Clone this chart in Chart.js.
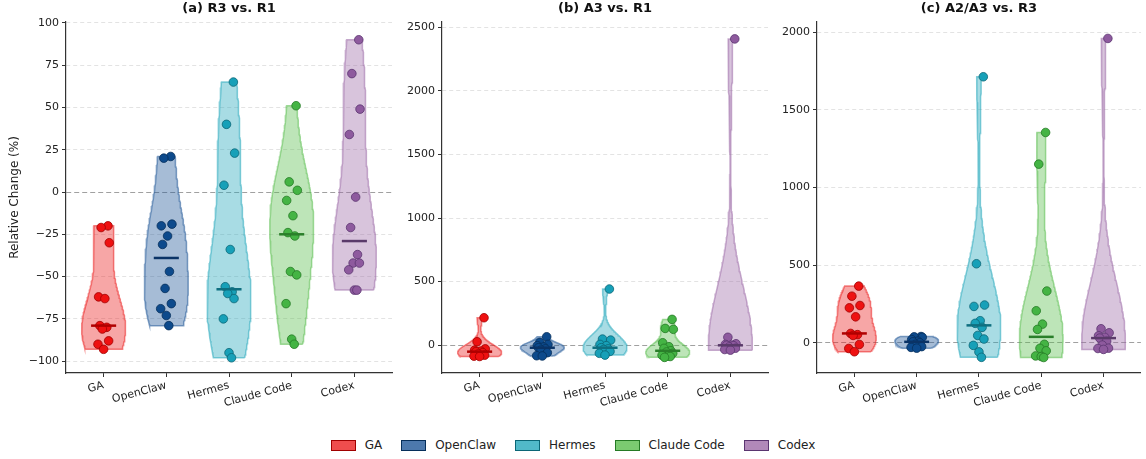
<!DOCTYPE html>
<html>
<head>
<meta charset="utf-8">
<script src="https://cdn.jsdelivr.net/npm/chart.js@4.4.1/dist/chart.umd.min.js"></script>
<style>
  body { margin: 0; background: #fff; width: 1146px; height: 459px; position: relative; overflow: hidden; font-family: "DejaVu Sans", sans-serif; }
  canvas { position: absolute; top: 0; }
  #legend { position: absolute; top: 438px; left: 0; width: 1146px; display: flex; justify-content: center; font-size: 12px; color: #222; }
  .item { display: flex; align-items: center; margin: 0 9.5px; }
  .patch { width: 23px; height: 9px; margin-right: 9px; border: 1px solid; }
</style>
</head>
<body>
<canvas id="pa" width="400" height="425" style="left:0px"></canvas>
<canvas id="pb" width="375" height="425" style="left:400px"></canvas>
<canvas id="pc" width="371" height="425" style="left:775px"></canvas>
<div id="legend"></div>
<script>
var categories = ['GA', 'OpenClaw', 'Hermes', 'Claude Code', 'Codex'];

// (a) R3 vs. R1, relative change in %
var a_GA       = [-20, -21, -30, -62, -63, -79, -80, -81, -88, -90, -93];
var a_OpenClaw = [21, 20, -19, -20, -26, -31, -47, -57, -66, -69, -73, -79];
var a_Hermes   = [65, 40, 23, 4, -34, -56, -59, -60, -63, -75, -95, -98];
var a_Claude   = [51, 6, 1, -5, -14, -24, -26, -47, -49, -66, -87, -90];
var a_Codex    = [90, 70, 49, 34, -3, -21, -37, -42, -42, -46, -58, -58];

// (b) A3 vs. R1
var b_GA       = [215, 26, -30, -40, -48, -52, -60, -70, -80, -87, -90];
var b_OpenClaw = [65, 21, 5, -5, -15, -21, -30, -40, -60, -84, -86];
var b_Hermes   = [441, 47, 39, 5, -5, -21, -30, -35, -50, -65, -79];
var b_Claude   = [202, 131, 124, 18, -13, -26, -45, -55, -65, -80, -87, -90, -97];
var b_Codex    = [2410, 61, 10, 5, 0, -2, -5, -15, -25, -35, -40];

// (c) A2/A3 vs. R3
var c_GA       = [365, 300, 240, 225, 167, 60, 52, 47, -11, -37, -58];
var c_OpenClaw = [40, 38, 35, 20, 10, 6, 0, -10, -25, -30, -35];
var c_Hermes   = [1714, 509, 243, 234, 142, 125, 99, 47, 24, -17, -59, -94];
var c_Claude   = [1355, 1151, 333, 206, 120, 86, -10, -36, -52, -85, -89, -95];
var c_Codex    = [1961, 90, 64, 45, 35, 30, 10, -15, -35, -37, -43];

var a_ticks = [-100, -75, -50, -25, 0, 25, 50, 75, 100];
var b_ticks = [0, 500, 1000, 1500, 2000, 2500];
var c_ticks = [0, 500, 1000, 1500, 2000];

// colours
var baseRGB  = ['235,32,32', '32,88,152', '37,167,187', '90,190,78', '157,108,168'];
var pointCol = ['#ee1111', '#0d4a8c', '#17a0b8', '#44b444', '#8e5a9e'];
var edgeCol  = ['#a00000', '#062e5a', '#0b6676', '#257a25', '#5a3570'];
var medCol   = ['#b00000', '#0a3366', '#0f6f80', '#2a7f2a', '#5a3a6a'];

var jit = [0.07, -0.04, 0.09, -0.08, 0.02, -0.06, 0.05, -0.02, 0.08, -0.09, 0.0, 0.04, -0.05];

function fmt(v) {
    return v < 0 ? '\u2212' + Math.abs(v) : '' + v;
}

function kde(vals) {
    var n = vals.length;
    var mean = vals.reduce(function(a, b) { return a + b; }, 0) / n;
    var sd = Math.sqrt(vals.reduce(function(a, v) { return a + (v - mean) * (v - mean); }, 0) / (n - 1));
    var bw = sd * Math.pow(n, -0.2);
    var lo = Math.min.apply(null, vals), hi = Math.max.apply(null, vals);
    var out = [], mx = 0;
    for (var k = 0; k < 100; k++) {
        var y = lo + (hi - lo) * k / 99, d = 0;
        vals.forEach(function(v) { var z = (y - v) / bw; d += Math.exp(-0.5 * z * z); });
        out.push({y: y, d: d});
        if (d > mx) mx = d;
    }
    return out.map(function(p) { return {y: p.y, w: p.d / mx * 0.35}; });
}

function median(vals) {
    var s = vals.slice().sort(function(a, b) { return a - b; });
    var m = Math.floor(s.length / 2);
    return s.length % 2 ? s[m] : (s[m - 1] + s[m]) / 2;
}

var titlePlugin = {
    id: 'paneltitle',
    afterDraw: function(chart) {
        var ctx = chart.ctx, area = chart.chartArea;
        ctx.save();
        ctx.font = 'bold 13px "DejaVu Sans"';
        ctx.fillStyle = '#111';
        ctx.textAlign = 'center';
        ctx.textBaseline = 'middle';
        ctx.fillText(chart.options.plugins.paneltitle.text, (area.left + area.right) / 2, 9);
        ctx.restore();
    }
};

function makePanel(id, title, series, ymin, ymax, yticks, axisW, padRight, yTitle) {
    var datasets = [];
    series.forEach(function(vals, i) {
        var shape = kde(vals);
        var poly = [];
        shape.forEach(function(p) { poly.push({x: i + p.w, y: p.y}); });
        for (var k = shape.length - 1; k >= 0; k--) poly.push({x: i - shape[k].w, y: shape[k].y});
        poly.push(poly[0]);
        datasets.push({
            type: 'line', data: poly, fill: 'shape', tension: 0, pointRadius: 0,
            backgroundColor: 'rgba(' + baseRGB[i] + ',0.4)',
            borderColor: 'rgba(' + baseRGB[i] + ',0.55)', borderWidth: 1.5, order: 3
        });
        datasets.push({
            type: 'scatter',
            data: vals.map(function(v, k) { return {x: i + jit[k % jit.length], y: v}; }),
            backgroundColor: pointCol[i], borderColor: edgeCol[i], borderWidth: 0.8,
            pointRadius: 4.3, order: 2
        });
        var m = median(vals);
        datasets.push({
            type: 'line', data: [{x: i - 0.2, y: m}, {x: i + 0.2, y: m}],
            borderColor: medCol[i], borderWidth: 2.5, pointRadius: 0, fill: false, order: 1
        });
    });

    return new Chart(document.getElementById(id), {
        type: 'scatter',
        data: {datasets: datasets},
        plugins: [titlePlugin],
        options: {
            responsive: false, animation: false,
            layout: {padding: {top: 22, right: padRight, left: 0, bottom: 0}},
            plugins: {legend: {display: false}, tooltip: {enabled: false}, paneltitle: {text: title}},
            scales: {
                x: {
                    type: 'linear', min: -0.6, max: 4.6,
                    afterBuildTicks: function(s) { s.ticks = categories.map(function(c, i) { return {value: i}; }); },
                    afterFit: function(s) { s.height = 52; },
                    ticks: {
                        callback: function(v) { return categories[v]; },
                        minRotation: 15, maxRotation: 15, padding: 2,
                        color: '#222', font: {family: 'DejaVu Sans', size: 11}
                    },
                    grid: {drawOnChartArea: false, drawTicks: true, tickLength: 4, tickColor: '#333'},
                    border: {display: true, color: '#333', width: 1.2}
                },
                y: {
                    type: 'linear', min: ymin, max: ymax,
                    afterBuildTicks: function(s) { s.ticks = yticks.map(function(v) { return {value: v}; }); },
                    afterFit: function(s) { s.width = axisW; },
                    ticks: {
                        callback: function(v) { return fmt(v); },
                        padding: 3, color: '#222', font: {family: 'DejaVu Sans', size: 11}
                    },
                    grid: {
                        drawTicks: true, tickLength: 4, tickColor: '#333',
                        color: function(c) { return c.tick && c.tick.value === 0 ? 'rgba(120,120,120,0.7)' : 'rgba(200,200,200,0.5)'; },
                        lineWidth: 1
                    },
                    border: {
                        display: true, color: '#333', width: 1.2,
                        dash: function(c) { return c.tick && c.tick.value === 0 ? [5, 3] : [4, 3]; }
                    },
                    title: {
                        display: !!yTitle, text: yTitle || '', color: '#222',
                        font: {family: 'DejaVu Sans', size: 12}, padding: {top: 8, bottom: 0}
                    }
                }
            }
        }
    });
}

makePanel('pa', '(a) R3 vs. R1', [a_GA, a_OpenClaw, a_Hermes, a_Claude, a_Codex], -107, 100.5, a_ticks, 66, 8, 'Relative Change (%)');
makePanel('pb', '(b) A3 vs. R1', [b_GA, b_OpenClaw, b_Hermes, b_Claude, b_Codex], -220, 2543, b_ticks, 42, 7, null);
makePanel('pc', '(c) A2/A3 vs. R3', [c_GA, c_OpenClaw, c_Hermes, c_Claude, c_Codex], -195, 2067, c_ticks, 42, 3, null);

// legend
var leg = document.getElementById('legend');
categories.forEach(function(c, i) {
    var it = document.createElement('div');
    it.className = 'item';
    var p = document.createElement('span');
    p.className = 'patch';
    p.style.background = 'rgba(' + baseRGB[i] + ',0.8)';
    p.style.borderColor = edgeCol[i];
    it.appendChild(p);
    var t = document.createElement('span');
    t.textContent = c;
    it.appendChild(t);
    leg.appendChild(it);
});
</script>
</body>
</html>
